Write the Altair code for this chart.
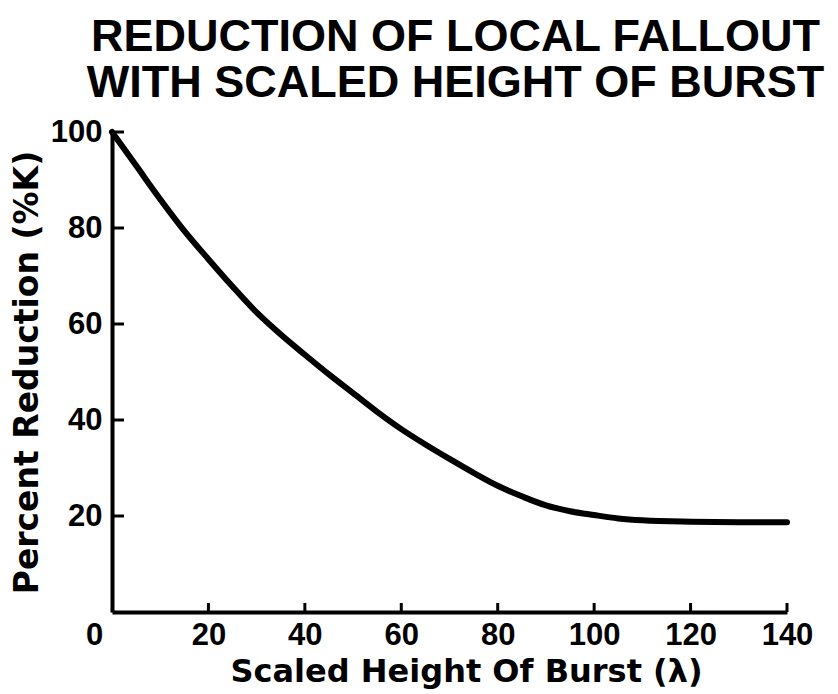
import altair as alt
import pandas as pd

# ---- data ----
height_of_burst = [0, 5, 10, 15, 20, 25, 30, 35, 40, 45, 50, 55, 60, 65, 70,
                   75, 80, 85, 90, 95, 100, 105, 110, 120, 130, 140]
percent_reduction = [100, 93, 86, 79.4, 73.5, 67.8, 62.4, 57.8, 53.6, 49.5, 45.6,
                     41.7, 38.1, 34.9, 31.9, 29.0, 26.3, 24.1, 22.2, 21.0, 20.2,
                     19.5, 19.1, 18.8, 18.7, 18.7]
x_label_values = [0, 20, 40, 60, 80, 100, 120, 140]
x_tick_values = [20, 40, 60, 80, 100, 120, 140]
y_label_values = [20, 40, 60, 80, 100]
y_tick_values = [20, 40, 60, 80, 100]
title_lines = ["REDUCTION OF LOCAL FALLOUT", "WITH SCALED HEIGHT OF BURST"]
x_title = "Scaled Height Of Burst  (λ)"
y_title = "Percent Reduction (%K)"

W, H = 675, 480

curve = pd.DataFrame({"h": height_of_burst, "r": percent_reduction})
xt = pd.DataFrame({"h": x_tick_values})
yt = pd.DataFrame({"r": y_tick_values})

xscale = alt.Scale(domain=[0, 140], nice=False, zero=False)
yscale = alt.Scale(domain=[0, 100], nice=False)

LABEL_FONT = "Liberation Sans"
TITLE_FONT = "DejaVu Sans"

x_axis = alt.Axis(
    values=x_label_values, title=x_title, grid=False, ticks=False,
    domainColor="black", domainWidth=4,
    labelFont=LABEL_FONT, labelFontSize=31, labelFontWeight="bold", labelColor="black",
    labelPadding=8, labelFlush=False, labelOverlap=False,
    labelOffset={"condition": {"test": "datum.value === 0", "value": -18}, "value": 0},
    titleFont=TITLE_FONT, titleFontSize=32, titleFontWeight="bold", titleColor="black",
    titlePadding=6, titleX=354,
)
y_axis = alt.Axis(
    values=y_label_values, title=y_title, grid=False, ticks=False,
    domainColor="black", domainWidth=4,
    labelFont=LABEL_FONT, labelFontSize=31, labelFontWeight="bold", labelColor="black",
    labelPadding=10, labelOverlap=False,
    titleFont=TITLE_FONT, titleFontSize=33, titleFontWeight="bold", titleColor="black",
    titlePadding=6,
)

line = alt.Chart(curve).mark_line(
    color="black", strokeWidth=6, interpolate="monotone", strokeCap="round"
).encode(
    x=alt.X("h:Q", scale=xscale, axis=x_axis),
    y=alt.Y("r:Q", scale=yscale, axis=y_axis),
)

xticks = alt.Chart(xt).mark_rule(color="black", strokeWidth=3).encode(
    x=alt.X("h:Q", scale=xscale, axis=x_axis),
    y=alt.value(H),
    y2=alt.value(H - 9),
)

yticks = alt.Chart(yt).mark_rule(color="black", strokeWidth=3).encode(
    y=alt.Y("r:Q", scale=yscale, axis=y_axis),
    x=alt.value(0),
    x2=alt.value(12),
)

chart = alt.layer(line, xticks, yticks).properties(
    width=W,
    height=H,
    title=alt.TitleParams(
        text=title_lines, font=LABEL_FONT, fontSize=45, fontWeight="bold",
        lineHeight=46, anchor="middle", dx=6, offset=10, color="black",
    ),
    autosize=alt.AutoSizeParams(type="none"),
    padding={"left": 104, "top": 124, "right": 43, "bottom": 80},
).configure(background="white").configure_view(stroke=None)

chart.save("out.html", embed_options={"renderer": "svg", "actions": False})
